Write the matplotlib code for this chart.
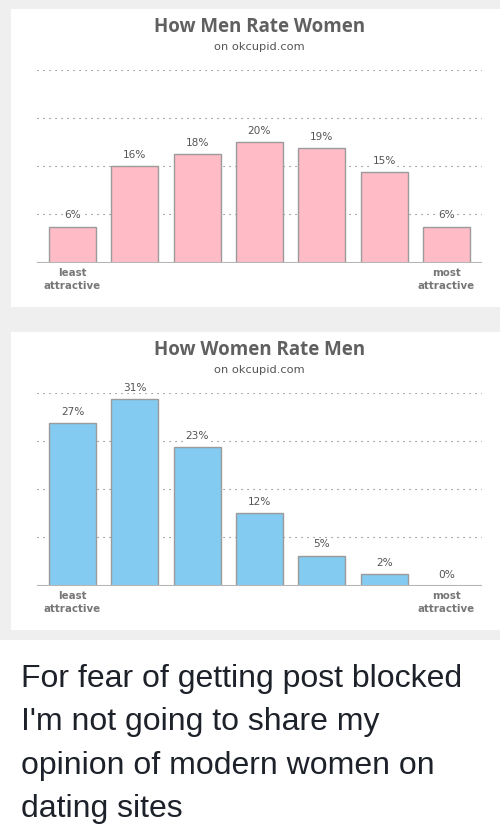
import numpy as np
import matplotlib.pyplot as plt
from matplotlib.patches import Rectangle

# --------------------------
# Data
# --------------------------
positions = np.arange(7)
men_rate_women = [6, 16, 18, 20, 19, 15, 6]
women_rate_men = [27, 31, 23, 12, 5, 2, 0]
grid_levels = [8, 16, 24, 32]
tick_positions = [0, 6]
tick_labels = ["least\nattractive", "most\nattractive"]
titles = ["How Men Rate Women", "How Women Rate Men"]
subtitle = "on okcupid.com"
caption_lines = [
    "For fear of getting post blocked",
    "I'm not going to share my",
    "opinion of modern women on",
    "dating sites",
]

W, H = 500, 838
fig = plt.figure(figsize=(W / 100, H / 100), dpi=100)
fig.patch.set_facecolor("white")


def px(x0, y0, w, h):
    # pixel box (from top-left) -> figure fraction rect
    return [x0 / W, 1 - (y0 + h) / H, w / W, h / H]


# gray backdrop with two white cards
fig.add_artist(Rectangle((0, 1 - 640 / H), 1, 640 / H, transform=fig.transFigure,
                         fc="#efefef", ec="none", zorder=-10))
for top, bottom in [(9, 307), (332, 630)]:
    r = px(11, top, 489, bottom - top)
    fig.add_artist(Rectangle((r[0], r[1]), r[2], r[3], transform=fig.transFigure,
                             fc="white", ec="none", zorder=-9))

panels = [
    (men_rate_women, "#ffbbc6", 262.7, 27, 46.5),
    (women_rate_men, "#84cbf2", 585.7, 350, 370),
]

for i, (vals, color, base_y, title_y, sub_y) in enumerate(panels):
    ax = fig.add_axes(px(37, base_y - 193, 445, 193))
    ax.set_facecolor("none")
    ax.set_xlim(-0.57, 6.57)
    ax.set_ylim(0, 32)

    for g in grid_levels:
        ax.axhline(g, color="#707070", lw=0.8, ls=(0, (1, 4.4)), zorder=0.5)
    ax.axhline(0, color="#b5b5b5", lw=1.5, zorder=3)

    ax.bar(positions, vals, width=0.755, color=color, edgecolor="#9b9b9b",
           linewidth=1, zorder=2)
    for x, v in zip(positions, vals):
        ax.annotate(f"{v}%", (x, v), xytext=(0, 8), textcoords="offset points",
                    ha="center", va="center", fontsize=7.6, color="#555555",
                    bbox=dict(fc="white", ec="none", pad=0.6), zorder=4)

    for s in ax.spines.values():
        s.set_visible(False)
    ax.set_yticks([])
    ax.set_xticks(tick_positions)
    ax.set_xticklabels(tick_labels, fontsize=7.4, fontweight="bold",
                       color="#777777", linespacing=1.3)
    ax.tick_params(axis="x", length=0, pad=4)

    cx = 259.5 / W
    fig.text(cx, 1 - title_y / H, titles[i], ha="center", va="center",
             family="Open Sans", fontweight="bold", fontsize=13.5, color="#606060")
    fig.text(cx, 1 - sub_y / H, subtitle, ha="center", va="center",
             fontsize=8.2, color="#555555")

for k, line in enumerate(caption_lines):
    fig.text(21 / W, 1 - (687 + k * 43.4) / H, line, ha="left", va="baseline",
             family="Liberation Sans", fontsize=23, color="#1d2129")

fig.savefig("out.png", dpi=100)
